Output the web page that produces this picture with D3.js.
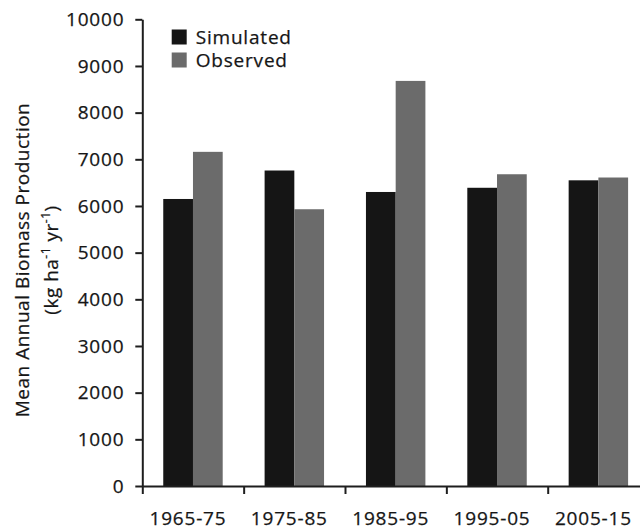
<!DOCTYPE html>
<html>
<head>
<meta charset="utf-8">
<script src="https://cdn.jsdelivr.net/npm/d3@7"></script>
<style>
  html, body { margin: 0; padding: 0; background: #fff; }
  svg { display: block; }
  text { font-family: "Open Sans", sans-serif; fill: #161616; stroke: #161616; stroke-width: 0.25px; }
</style>
</head>
<body>
<svg id="chart" width="640" height="529"></svg>
<script>
// Decades and mean annual biomass production (kg ha-1 yr-1)
const periods = ["1965-75", "1975-85", "1985-95", "1995-05", "2005-15"];
const seriesNames = ["Simulated", "Observed"];
const simulated = [6150, 6760, 6300, 6390, 6550];
const observed = [7160, 5930, 8680, 6680, 6610];
const yTicks = [0, 1000, 2000, 3000, 4000, 5000, 6000, 7000, 8000, 9000, 10000];
const colors = ["#151515", "#6b6b6b"];

const svg = d3.select("#chart");
const margin = { left: 142.3, top: 19.3, bottom: 486 };
const step = 101.35;
const xRight = margin.left + step * periods.length;

const x0 = d3.scaleBand().domain(periods).range([margin.left, xRight]).padding(0);
const x1 = d3.scaleBand().domain(seriesNames).range([0, x0.bandwidth()])
  .paddingInner(0).paddingOuter(0.705);
const y = d3.scaleLinear().domain([0, 10000]).range([margin.bottom, margin.top]);

const rows = periods.map((p, i) => ({ period: p, values: [simulated[i], observed[i]] }));

// Bars
const groups = svg.append("g").selectAll("g").data(rows).join("g")
  .attr("transform", d => `translate(${x0(d.period)},0)`);
groups.selectAll("rect")
  .data(d => d.values.map((v, j) => ({ name: seriesNames[j], value: v, j })))
  .join("rect")
  .attr("x", d => x1(d.name))
  .attr("width", x1.bandwidth())
  .attr("y", d => y(d.value))
  .attr("height", d => y(0) - y(d.value))
  .attr("fill", d => colors[d.j]);

// Y axis
const yAxis = svg.append("g")
  .attr("transform", `translate(${margin.left},0)`)
  .call(d3.axisLeft(y).tickValues(yTicks).tickFormat(d3.format("d"))
    .tickSize(7).tickSizeOuter(0).tickPadding(11));
yAxis.selectAll("text").style("font-size", "19px").style("letter-spacing", "0.8px");

// X axis: boundary ticks between periods
const xb = d3.scaleLinear().domain([0, periods.length]).range([margin.left, xRight]);
svg.append("g")
  .attr("transform", `translate(0,${margin.bottom})`)
  .call(d3.axisBottom(xb).tickValues(d3.range(0, periods.length + 1))
    .tickFormat("").tickSize(8).tickSizeOuter(0));

// X axis: period labels
const xLabels = svg.append("g")
  .attr("transform", `translate(0,${margin.bottom})`)
  .call(d3.axisBottom(x0).tickSize(0).tickPadding(26));
xLabels.select(".domain").remove();
xLabels.selectAll("text").style("font-size", "19px").style("letter-spacing", "0.8px")
  .attr("dx", "-5");

svg.selectAll(".domain, .tick line")
  .attr("stroke", "#1e1e1e").attr("stroke-width", 2);
svg.selectAll(".tick text").attr("fill", "#161616");

// Y axis title
const title = svg.append("text")
  .attr("transform", "translate(0,260) rotate(-90)")
  .attr("text-anchor", "middle")
  .style("font-size", "19px").style("letter-spacing", "0.5px");
title.append("tspan").attr("x", 0).attr("y", 29).text("Mean Annual Biomass Production");
const l2 = title.append("tspan").attr("x", 0).attr("y", 58);
l2.append("tspan").text("(kg ha");
l2.append("tspan").attr("baseline-shift", "super").style("font-size", "12px").text("-1");
l2.append("tspan").text(" yr");
l2.append("tspan").attr("baseline-shift", "super").style("font-size", "12px").text("-1");
l2.append("tspan").text(")");

// Legend
const legend = svg.append("g").attr("transform", "translate(171.7,29.5)");
const items = legend.selectAll("g").data(seriesNames).join("g")
  .attr("transform", (d, i) => `translate(0,${i * 23})`);
items.append("rect").attr("width", 15).attr("height", 15)
  .attr("fill", (d, i) => colors[i]);
items.append("text").attr("x", 24).attr("y", 7.5).attr("dy", "0.35em")
  .style("font-size", "19px").style("letter-spacing", "0.8px").text(d => d);
</script>
</body>
</html>
